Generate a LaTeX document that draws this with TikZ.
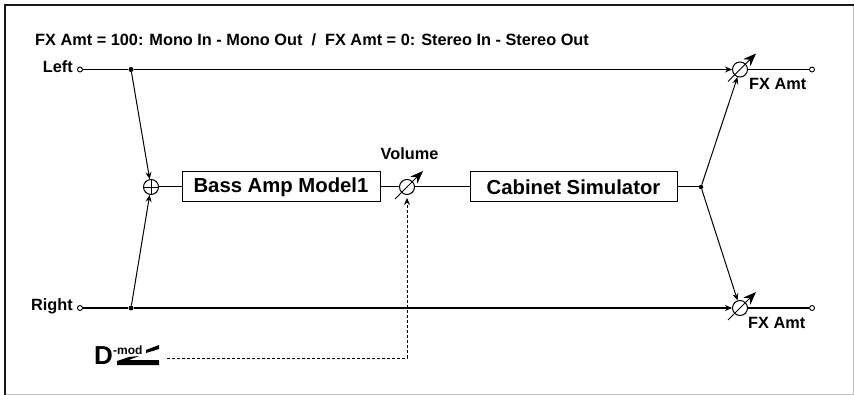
\documentclass[tikz,border=0pt]{standalone}
\usepackage{fontspec}
\setmainfont{Liberation Sans}
\usetikzlibrary{arrows.meta}
\tikzset{
  x=1pt,y=-1pt,
  sig/.style={draw=black,line width=1pt},
  arr/.style={sig,-{Stealth[length=7pt,width=6pt]}},
  block/.style={draw=black,line width=1pt,minimum height=30pt,inner sep=0pt,font=\bfseries\fontsize{20.3}{21}\selectfont,anchor=center},
  term/.style={circle,draw=black,line width=0.9pt,fill=white,minimum size=5pt,inner sep=0pt},
  dot/.style={circle,fill=black,minimum size=5pt,inner sep=0pt},
  vca/.style={circle,draw=black,line width=1pt,fill=white,minimum size=15pt,inner sep=0pt},
  lab/.style={font=\bfseries\fontsize{16.3}{17}\selectfont,inner sep=0pt},
  knob/.style={line width=0.9pt,-{Stealth[length=13pt,width=10pt]}}
}
\newcommand{\vcaslash}[1]{%
  \draw[knob] ([shift={(-12,12)}]#1.center) -- ([shift={(16,-16)}]#1.center);}
\begin{document}
\begin{tikzpicture}
\useasboundingbox (0,0) rectangle (854,395);
\draw[line width=0.9pt,draw=black!25] (6,394) -- (853,394) -- (853,5);
\draw[line width=1.5pt,draw=black!90] (4.8,395) -- (4.8,5) -- (854,5);
\node[lab,anchor=base west] (title) at (35,46) {FX Amt = 100: Mono In - Mono Out\ \ /\ \ FX Amt = 0: Stereo In - Stereo Out};
\node[lab,anchor=base east] (l) at (73,73) {Left};
\node[lab,anchor=base east] (r) at (73,311) {Right};
\node[term] (lin) at (80,69.5) {};
\node[term] (rin) at (80,308) {};
\node[dot] (ld) at (131,69.5) {};
\node[dot] (rd) at (131,308) {};
\node[circle,draw=black,line width=1pt,minimum size=15pt,inner sep=0pt] (sum) at (151,187) {};
\draw[line width=0.9pt] (sum.north) -- (sum.south) (sum.west) -- (sum.east);
\node[block,minimum width=198pt] (amp) at (281,187) {Bass Amp Model1};
\node[vca] (vol) at (407,187) {};
\node[block,minimum width=207pt] (cab) at (573.5,187) {Cabinet Simulator};
\node[dot,minimum size=4.5pt] (sp) at (701,187) {};
\node[vca] (fl) at (740,69.5) {};
\node[vca] (fr) at (740,308) {};
\node[term] (lout) at (812,69.5) {};
\node[term] (rout) at (812,308) {};
\node[lab,anchor=base west] (fla) at (749,90) {FX Amt};
\node[lab,anchor=base west] (fra) at (748,328) {FX Amt};
\node[lab,anchor=base] (vl) at (409.5,160) {Volume};
\draw[sig] (lin) -- (ld);
\draw[sig,line width=1.3pt] (rin) -- (rd);
\draw[arr] (ld) -- (fl);
\draw[arr,line width=1.3pt] (rd) -- (fr);
\draw[sig] (fl) -- (lout);
\draw[sig,line width=1.3pt] (fr) -- (rout);
\draw[arr] (ld) -- (sum);
\draw[arr] (rd) -- (sum);
\draw[sig] (sum) -- (amp);
\draw[sig] (amp) -- (vol);
\draw[sig] (vol) -- (cab);
\draw[sig] (cab) -- (sp);
\draw[arr] (sp) -- (fl);
\draw[arr] (sp) -- (fr);
\vcaslash{vol}
\vcaslash{fl}
\vcaslash{fr}
\node[font=\bfseries\fontsize{26}{26}\selectfont,inner sep=0pt,anchor=base west] (d) at (94,364) {D};
\node[font=\bfseries\fontsize{12}{12}\selectfont,inner sep=0pt,anchor=base west] (m) at (113,354) {-mod};
\fill (117,361) -- (117,365) -- (159,365) -- (159,360) -- (129,360) -- (139,356) -- (129,357) -- cycle;
\fill (146,350) -- (159,345) -- (159,349) -- (146,353) -- cycle;
\coordinate (dm) at (167,358);
\draw[line width=0.9pt,dash pattern=on 3pt off 2pt,-{Stealth[length=7pt,width=6pt]}] (dm) -| ([yshift=-3pt]vol.south);
\end{tikzpicture}
\end{document}
